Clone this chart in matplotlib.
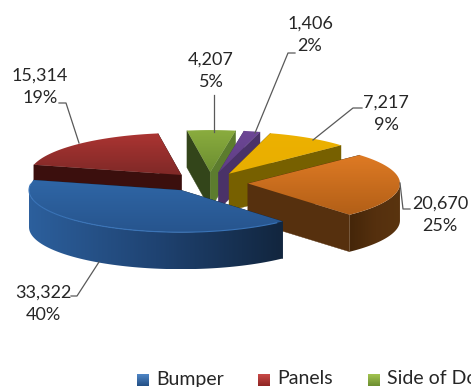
import numpy as np
import matplotlib
matplotlib.use("Agg")
import matplotlib.pyplot as plt
from matplotlib.colors import LinearSegmentedColormap
from matplotlib.patches import Polygon

plt.rcParams['font.family'] = ['Lato', 'DejaVu Sans']

values = [33322, 15314, 4207, 1406, 7217, 20670]
value_labels = ["33,322", "15,314", "4,207", "1,406", "7,217", "20,670"]
percent_labels = ["40%", "19%", "5%", "2%", "9%", "25%"]
legend_names = ["Bumper", "Panels", "Side of Door"]

# pie geometry in pixels
center_x, center_y = 210, 183
radius_x, radius_y = 152, 42
depth = 37
start_angle = 48
explode_x = [0.37, 0.28, 0.26, 0.26, 0.24, 0.25]
explode_y = [0.2, 0.26, 0.26, 0.26, 0.26, 0.26]

# top light, top dark, wall near, wall far
top_colors = ['#2f66a6', '#27558e', '#ab3432', '#7f2927', '#8aac3e', '#6c8e31',
              '#6d4796', '#5f3e84', '#edb100', '#e8ae00', '#de7a24', '#b25f17']
top_colors = [top_colors[i:i + 2] for i in range(0, 12, 2)]
arc_colors = [['#2c5f9c', '#1f4372', '#12263f'], ['#3b0f0d', '#3b0f0d', '#3b0f0d'],
              ['#5f8030', '#5f8030', '#5f8030'], ['#4a3268', '#4a3268', '#4a3268'],
              ['#7a6000', '#7a6000', '#7a6000'], ['#452609', '#55300e', '#5a340f']]
wall_colors = ['#12263f', '#3b0f0d', '#33451a', '#4a3268', '#776000', '#56300e']
wall2_colors = ['#12263f', '#3b0f0d', '#5c7c2e', '#4a3268', '#776000', '#56300e']
legend_colors = [['#4f86c6', '#234f85'], ['#c94a48', '#8f2523'], ['#a3c450', '#6c8e31']]

# leader lines: value label index -> polyline
leaders = {
    0: [(99, 262), (77, 296), (71, 296)],
    1: [(79, 143), (66, 103), (59, 103)],
    2: [(214, 132), (214, 95)],
    3: [(255, 133), (288, 53), (295, 53)],
    4: [(313, 140), (353, 108), (362, 108)],
    5: [(400, 183), (403, 209), (410, 209)],
}
label_pos = [(43, 304), (40, 87), (211, 71), (310, 35), (386, 114), (440, 215)]

fig = plt.figure(figsize=(4.71, 3.87), dpi=100)
ax = fig.add_axes([0, 0, 1, 1])
ax.set_xlim(0, 471)
ax.set_ylim(387, 0)
ax.set_autoscale_on(False)
ax.axis('off')


def shade(points, colors, horizontal, z):
    # fill a polygon with a linear gradient
    points = np.array(points)
    patch = Polygon(points, closed=True, transform=ax.transData, fc='none', ec='none')
    ax.add_patch(patch)
    cmap = LinearSegmentedColormap.from_list('g', colors)
    ramp = np.linspace(0, 1, 64).reshape(1, -1) if horizontal else np.linspace(0, 1, 64).reshape(-1, 1)
    x0, x1 = points[:, 0].min(), points[:, 0].max()
    y0, y1 = points[:, 1].min(), points[:, 1].max()
    im = ax.imshow(ramp, cmap=cmap, extent=(x0, x1, y1, y0), aspect='auto',
                   interpolation='bilinear', zorder=z)
    im.set_clip_path(patch)


def rim(t, ox, oy):
    rad = np.radians(t)
    return np.column_stack([ox + radius_x * np.cos(rad), oy + radius_y * np.sin(rad)])


def slice_origin(i):
    mid = np.radians((edges[i] + edges[i + 1]) / 2)
    return (center_x + explode_x[i] * radius_x * np.cos(mid),
            center_y + explode_y[i] * radius_y * np.sin(mid))


total = sum(values)
edges = start_angle + np.cumsum([0] + values) / total * 360
# back slices first, the big front slice last
draw_order = [1, 2, 3, 4, 5, 0]

for order, i in enumerate(draw_order):
    t0, t1 = edges[i], edges[i + 1]
    ox, oy = slice_origin(i)
    apex = np.array([ox, oy])
    z = 2 + order * 0.1
    drop = np.array([0, depth])

    # radial walls, the one sitting lower goes on top
    walls = []
    for t, col in ((t0, wall_colors[i]), (t1, wall2_colors[i])):
        end = rim(np.array([t]), ox, oy)[0]
        walls.append((apex[1] + end[1], [apex, end, end + drop, apex + drop], col))
    walls.sort(key=lambda w: w[0])
    for _, pts, col in walls:
        ax.add_patch(Polygon(pts, closed=True, fc=col, ec=col, lw=0.3, zorder=z))

    # outer wall, only the part facing the viewer
    for lo, hi in ((0, 180), (360, 540)):
        a, b = max(t0, lo), min(t1, hi)
        if b > a:
            arc = rim(np.linspace(a, b, 80), ox, oy)
            shade(np.vstack([arc, arc[::-1] + drop]), arc_colors[i], True, z + 0.01)

    # top face
    arc = rim(np.linspace(t0, t1, 120), ox, oy)
    shade(np.vstack([apex, arc]), top_colors[i], False, z + 0.02)

# bevel along the front of the blue slice
arc = rim(np.linspace(edges[0] + 3, edges[1] - 6, 80), *slice_origin(0))
ax.plot(arc[:, 0], arc[:, 1], color='#3a74b8', lw=0.8, zorder=3)

for i, line in leaders.items():
    xs, ys = zip(*line)
    ax.plot(xs, ys, color='#595959', lw=0.9, zorder=4)
    ax.text(label_pos[i][0], label_pos[i][1], value_labels[i] + "\n" + percent_labels[i],
            ha='center', va='center', fontsize=13, color='#262626', linespacing=1.5, zorder=5)

legend_x = [137, 258, 368]
for x, name, col in zip(legend_x, legend_names, legend_colors):
    square = [(x, 374), (x + 12, 374), (x + 12, 386), (x, 386)]
    shade(square, col, False, 5)
    ax.text(x + 19, 379, name, ha='left', va='center', fontsize=14, color='#262626', zorder=5)

fig.savefig('out.png', dpi=100)
